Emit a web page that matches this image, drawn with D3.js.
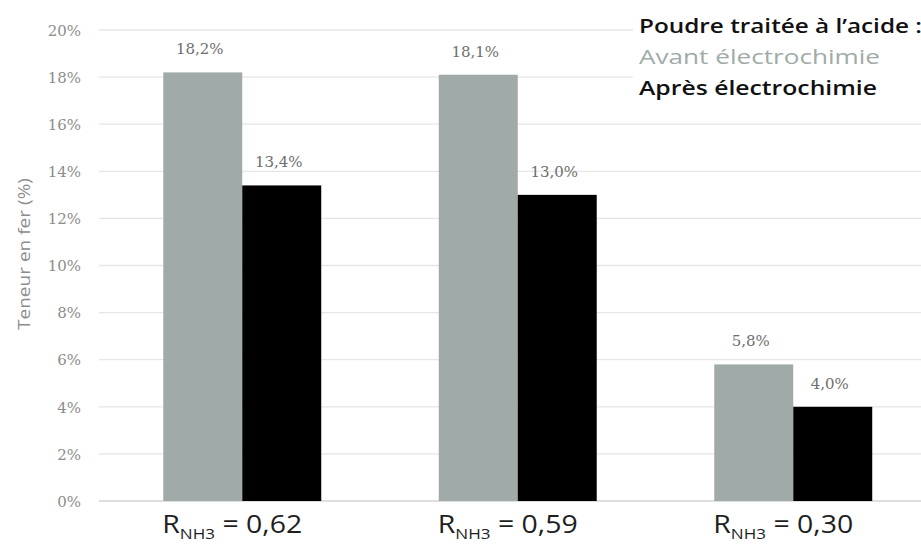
<!DOCTYPE html>
<html><head><meta charset="utf-8">
<script src="https://cdn.jsdelivr.net/npm/d3@7"></script>
<style>body{margin:0;background:#fff;overflow:hidden}svg{display:block;font-family:"Open Sans",sans-serif}</style>
</head><body><svg id="c" width="921" height="556"></svg>
<script>
const categories = ["0,62", "0,59", "0,30"];
const seriesNames = ["Avant électrochimie", "Après électrochimie"];
const avant = [18.2, 18.1, 5.8];
const apres = [13.4, 13.0, 4.0];
const yTicks = [0, 2, 4, 6, 8, 10, 12, 14, 16, 18, 20];
const legendTitle = "Poudre traitée à l\u2019acide :";
const yTitle = "Teneur en fer (%)";

const colors = ["#a0aba9", "#000000"];
const svg = d3.select("#c");
const m = {left: 104.5, right: 931, top: 30, bottom: 501};
const x = d3.scaleBand().domain(categories).range([m.left, m.right]);
const xs = d3.scaleBand().domain([0, 1]).range([0, x.bandwidth()]).paddingInner(0).paddingOuter(0.744);
const y = d3.scaleLinear().domain([0, 20]).range([m.bottom, m.top]);

// gridlines
svg.append("g").selectAll("line").data(yTicks).join("line")
  .attr("x1", 99).attr("x2", 921)
  .attr("y1", d => y(d)).attr("y2", d => y(d))
  .attr("stroke", d => d === 0 ? "#d4d4d4" : "#e6e6e6").attr("stroke-width", 1.3);

// y tick labels
const yAxis = d3.axisLeft(y).tickValues(yTicks).tickFormat(d => d + "%").tickSize(0).tickPadding(0);
const ga = svg.append("g").attr("transform", `translate(81,0)`).call(yAxis);
ga.select(".domain").remove();
ga.selectAll("text").attr("fill", "#8c8c8c").style("font-size", "15px")
  .style("font-family", "'DejaVu Serif', serif").attr("text-anchor", "end").attr("dy", "0.35em");

svg.append("text").attr("transform", `translate(30,254) rotate(-90)`)
  .attr("text-anchor", "middle").attr("fill", "#8c8c8c").style("font-size", "17px")
  .attr("textLength", 152).attr("lengthAdjust", "spacingAndGlyphs").text(yTitle);

const data = categories.map((c, i) => ({c, vals: [avant[i], apres[i]]}));
const g = svg.append("g").selectAll("g").data(data).join("g").attr("transform", d => `translate(${x(d.c)},0)`);
g.selectAll("rect").data(d => d.vals.map((v, j) => ({v, j}))).join("rect")
  .attr("x", d => xs(d.j)).attr("width", xs.bandwidth())
  .attr("y", d => y(d.v)).attr("height", d => y(0) - y(d.v))
  .attr("fill", d => colors[d.j]);
g.selectAll("text.val").data(d => d.vals.map((v, j) => ({v, j}))).join("text").attr("class", "val")
  .attr("x", d => xs(d.j) + xs.bandwidth() / 2 - 3).attr("y", d => y(d.v) - 18)
  .attr("text-anchor", "middle").attr("fill", "#6e6e6e").style("font-size", "15px")
  .style("font-family", "'DejaVu Serif', serif")
  .text(d => d.v.toFixed(1).replace(".", ",") + "%");

// x labels
const xl = svg.append("g").selectAll("text").data(categories).join("text")
  .attr("x", d => x(d) + x.bandwidth() / 2 - 10).attr("y", 533)
  .attr("text-anchor", "middle").attr("fill", "#1e1e1e").style("font-size", "25px")
  .attr("textLength", 140).attr("lengthAdjust", "spacingAndGlyphs");
xl.append("tspan").text("R");
xl.append("tspan").attr("dy", 6).style("font-size", "15px").text("NH3");
xl.append("tspan").attr("dy", -6).text(d => " = " + d);

// legend
svg.append("rect").attr("x", 633).attr("y", 5).attr("width", 290).attr("height", 100).attr("fill", "#fff");
svg.append("text").attr("x", 639).attr("y", 33).attr("fill", "#111").style("font-size", "20px").style("font-weight", 600)
  .attr("textLength", 283).attr("lengthAdjust", "spacingAndGlyphs").text(legendTitle);
svg.append("text").attr("x", 639).attr("y", 64).attr("fill", colors[0]).style("font-size", "20px").style("font-weight", 400)
  .attr("textLength", 241).attr("lengthAdjust", "spacingAndGlyphs").text(seriesNames[0]);
svg.append("text").attr("x", 639).attr("y", 95).attr("fill", "#111").style("font-size", "20px").style("font-weight", 600)
  .attr("textLength", 238).attr("lengthAdjust", "spacingAndGlyphs").text(seriesNames[1]);
</script></body></html>
